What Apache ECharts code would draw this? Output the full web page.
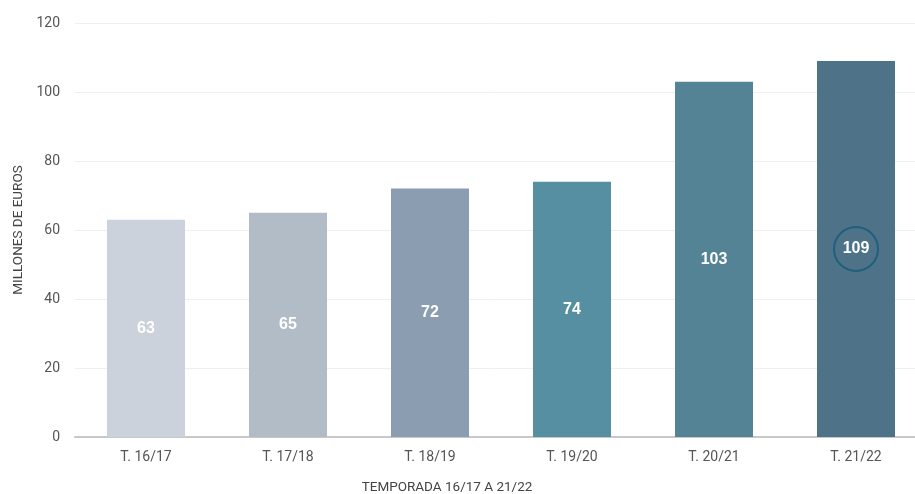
<!DOCTYPE html>
<html>
<head>
<meta charset="utf-8">
<script src="https://cdn.jsdelivr.net/npm/echarts@6/dist/echarts.min.js"></script>
<style>
  html, body { margin: 0; padding: 0; background: #fff; }
  #chart { width: 915px; height: 494px; }
</style>
</head>
<body>
<div id="chart"></div>
<script>
// Season revenue, millions of euros
const seasons = ['T. 16/17', 'T. 17/18', 'T. 18/19', 'T. 19/20', 'T. 20/21', 'T. 21/22'];
const values = [63, 65, 72, 74, 103, 109];
const barColors = ['#cbd2dc', '#b2bcc7', '#8a9db1', '#568fa1', '#548396', '#4e7388'];
const yTicks = { min: 0, max: 120, interval: 20 };

const chart = echarts.init(document.getElementById('chart'));

const seriesData = values.map((v, i) => {
  const item = { value: v, itemStyle: { color: barColors[i] } };
  if (i === values.length - 1) {
    // highlight the latest season with a ring round its label
    item.label = {
      borderColor: '#1f5f7e',
      borderWidth: 2,
      borderRadius: 23,
      width: 44,
      height: 44,
      lineHeight: 44,
      align: 'center',
      verticalAlign: 'middle'
    };
  }
  return item;
});

chart.setOption({
  animation: false,
  title: {
    text: 'TEMPORADA 16/17 A 21/22',
    left: 447,
    top: 481,
    padding: 0,
    textAlign: 'center',
    textStyle: { fontFamily: 'Roboto', fontSize: 13.5, fontWeight: 'normal', color: '#444' }
  },
  grid: { left: 75, top: 23, width: 852, height: 414, containLabel: false, outerBoundsMode: 'none' },
  xAxis: {
    type: 'category',
    data: seasons,
    axisLine: { lineStyle: { color: '#c8c8c8', width: 2 } },
    axisTick: { show: false },
    axisLabel: { margin: 13, fontFamily: 'Roboto', fontSize: 14, color: '#555' }
  },
  yAxis: {
    type: 'value',
    min: yTicks.min,
    max: yTicks.max,
    interval: yTicks.interval,
    name: 'MILLONES DE EUROS',
    nameLocation: 'middle',
    nameGap: 49,
    nameTextStyle: { fontFamily: 'Roboto', fontSize: 13.5, color: '#444' },
    axisLine: { show: false },
    axisTick: { show: false },
    axisLabel: { margin: 15, fontFamily: 'Roboto', fontSize: 14, color: '#555' },
    splitLine: { lineStyle: { color: '#efefef', width: 1 } }
  },
  series: [{
    type: 'bar',
    data: seriesData,
    barWidth: 78,
    label: {
      show: true,
      position: 'inside',
      fontFamily: 'Liberation Sans',
      fontWeight: 'bold',
      fontSize: 16,
      color: '#fff'
    }
  }]
});
</script>
</body>
</html>
